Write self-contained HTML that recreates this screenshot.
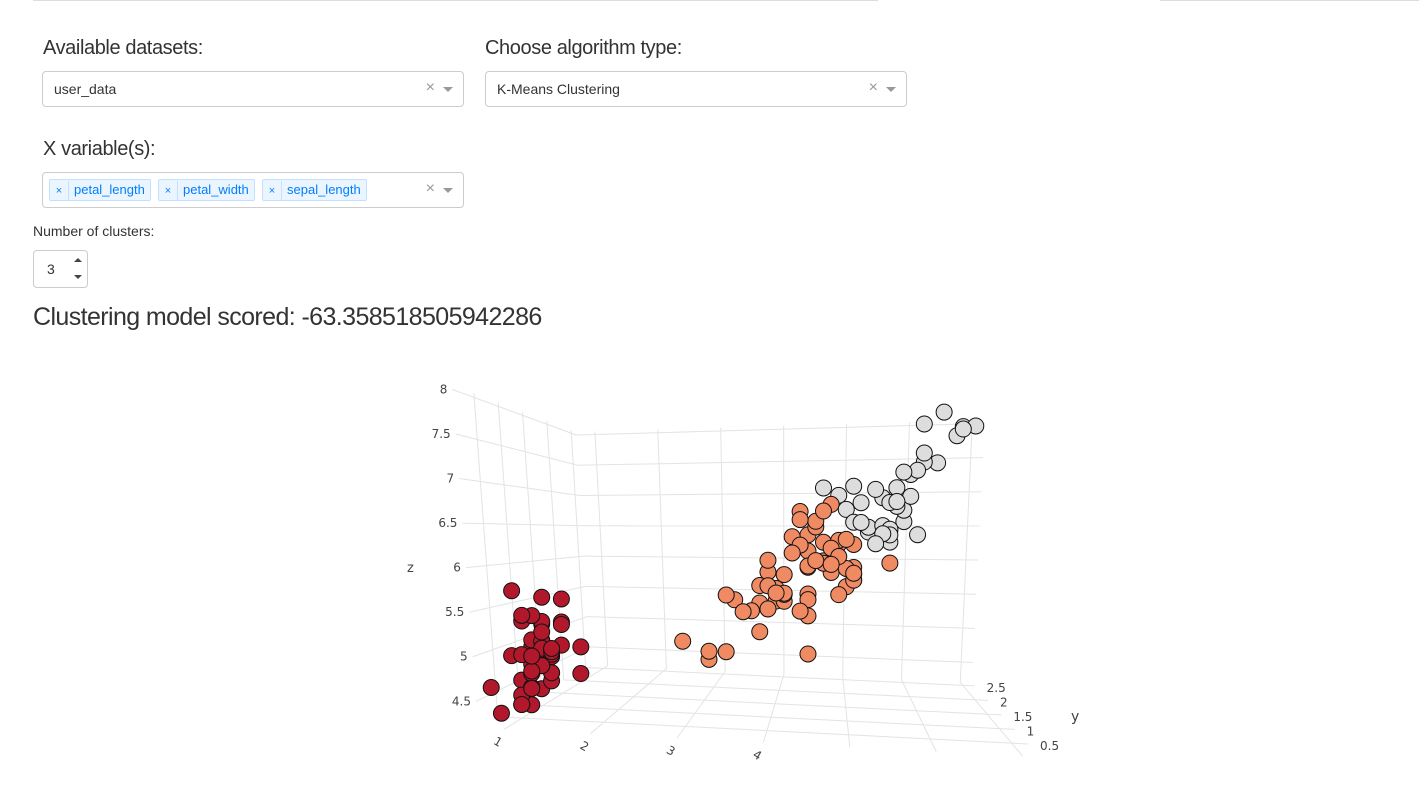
<!DOCTYPE html>
<html><head><meta charset="utf-8">
<style>
body{margin:0;width:1419px;height:785px;background:#fff;font-family:"Liberation Sans",sans-serif;position:relative;overflow:hidden;color:#333}
.abs{position:absolute}
.lbl{font-size:20px;font-weight:300;color:#333;letter-spacing:-0.4px}
.sel{border:1px solid #ccc;border-radius:4px;background:#fff;box-sizing:border-box}
.sel .v{position:absolute;left:11px;top:9px;font-size:14px;color:#333}
.sel .x{position:absolute;right:28px;top:7px;font-size:16px;color:#999}
.sel .c{position:absolute;right:10px;top:15px;width:0;height:0;border-left:5px solid transparent;border-right:5px solid transparent;border-top:5px solid #999}
.tag{position:absolute;top:6px;height:22px;border:1px solid #c2e0ff;background:#ebf5ff;border-radius:2px;color:#007eff;font-size:13px;box-sizing:border-box;line-height:20px}
.tag span.i{display:inline-block;width:18px;text-align:center;border-right:1px solid #c2e0ff;font-size:11px}
.tag span.t{padding:0 5px}
</style></head><body>
<div class="abs" style="left:33px;top:0;width:845px;height:1px;background:#ddd"></div>
<div class="abs" style="left:1160px;top:0;width:259px;height:1px;background:#ddd"></div>

<div class="abs lbl" style="left:43px;top:37px">Available datasets:</div>
<div class="abs sel" style="left:42px;top:71px;width:422px;height:36px"><span class="v">user_data</span><span class="x">×</span><span class="c"></span></div>

<div class="abs lbl" style="left:485px;top:37px">Choose algorithm type:</div>
<div class="abs sel" style="left:485px;top:71px;width:422px;height:36px"><span class="v">K-Means Clustering</span><span class="x">×</span><span class="c"></span></div>

<div class="abs lbl" style="left:43px;top:138px">X variable(s):</div>
<div class="abs sel" style="left:42px;top:172px;width:422px;height:36px">
<div class="tag" style="left:6px"><span class="i">×</span><span class="t">petal_length</span></div>
<div class="tag" style="left:115px"><span class="i">×</span><span class="t">petal_width</span></div>
<div class="tag" style="left:219px"><span class="i">×</span><span class="t">sepal_length</span></div>
<span class="x">×</span><span class="c"></span></div>

<div class="abs" style="left:33px;top:223px;font-size:14px;color:#333">Number of clusters:</div>
<div class="abs sel" style="left:33px;top:250px;width:55px;height:38px"><span class="v" style="left:13px;top:10px">3</span>
<span style="position:absolute;left:40px;top:7px;border-left:4px solid transparent;border-right:4px solid transparent;border-bottom:4px solid #444"></span>
<span style="position:absolute;left:40px;top:24px;border-left:4px solid transparent;border-right:4px solid transparent;border-top:4px solid #444"></span></div>

<div class="abs" style="left:33px;top:303px;font-size:25px;font-weight:300;color:#333;letter-spacing:-0.6px">Clustering model scored: -63.358518505942286</div>

<svg class="abs" style="left:0;top:0" width="1419" height="785" id="chart"></svg>

<script>
const petalLength=[1.4,1.4,1.3,1.5,1.4,1.7,1.4,1.5,1.4,1.5,1.5,1.6,1.4,1.1,1.2,1.5,1.3,1.4,1.7,1.5,1.7,1.5,1.0,1.7,1.9,1.6,1.6,1.5,1.4,1.6,1.6,1.5,1.5,1.4,1.5,1.2,1.3,1.5,1.3,1.5,1.3,1.3,1.3,1.6,1.9,1.4,1.6,1.4,1.5,1.4,
4.7,4.5,4.9,4.0,4.6,4.5,4.7,3.3,4.6,3.9,3.5,4.2,4.0,4.7,3.6,4.4,4.5,4.1,4.5,3.9,4.8,4.0,4.9,4.7,4.3,4.4,4.8,5.0,4.5,3.5,3.8,3.7,3.9,5.1,4.5,4.5,4.7,4.4,4.1,4.0,4.4,4.6,4.0,3.3,4.2,4.2,4.2,4.3,3.0,4.1,
6.0,5.1,5.9,5.6,5.8,6.6,4.5,6.3,5.8,6.1,5.1,5.3,5.5,5.0,5.1,5.3,5.5,6.7,6.9,5.0,5.7,4.9,6.7,4.9,5.7,6.0,4.8,4.9,5.6,5.8,6.1,6.4,5.6,5.1,5.6,6.1,5.6,5.5,4.8,5.4,5.6,5.1,5.1,5.9,5.7,5.2,5.0,5.2,5.4,5.1];
const petalWidth=[0.2,0.2,0.2,0.2,0.2,0.4,0.3,0.2,0.2,0.1,0.2,0.2,0.1,0.1,0.2,0.4,0.4,0.3,0.3,0.3,0.2,0.4,0.2,0.5,0.2,0.2,0.4,0.2,0.2,0.2,0.2,0.4,0.1,0.2,0.1,0.2,0.2,0.1,0.2,0.2,0.3,0.3,0.2,0.6,0.4,0.3,0.2,0.2,0.2,0.2,
1.4,1.5,1.5,1.3,1.5,1.3,1.6,1.0,1.3,1.4,1.0,1.5,1.0,1.4,1.3,1.4,1.5,1.0,1.5,1.1,1.8,1.3,1.5,1.2,1.3,1.4,1.4,1.7,1.5,1.0,1.1,1.0,1.2,1.6,1.5,1.6,1.5,1.3,1.3,1.3,1.2,1.4,1.2,1.0,1.3,1.2,1.3,1.3,1.1,1.3,
2.5,1.9,2.1,1.8,2.2,2.1,1.7,1.8,1.8,2.5,2.0,1.9,2.1,2.0,2.4,2.3,1.8,2.2,2.3,1.5,2.3,2.0,2.0,1.8,2.1,1.8,1.8,1.8,2.1,1.6,1.9,2.0,2.2,1.5,1.4,2.3,2.4,1.8,1.8,2.1,2.4,2.3,1.9,2.3,2.5,2.3,1.9,2.0,2.3,1.8];
const sepalLength=[5.1,4.9,4.7,4.6,5.0,5.4,4.6,5.0,4.4,4.9,5.4,4.8,4.8,4.3,5.8,5.7,5.4,5.1,5.7,5.1,5.4,5.1,4.6,5.1,4.8,5.0,5.0,5.2,5.2,4.7,4.8,5.4,5.2,5.5,4.9,5.0,5.5,4.9,4.4,5.1,5.0,4.5,4.4,5.0,5.1,4.8,5.1,4.6,5.3,5.0,
7.0,6.4,6.9,5.5,6.5,5.7,6.3,4.9,6.6,5.2,5.0,5.9,6.0,6.1,5.6,6.7,5.6,5.8,6.2,5.6,5.9,6.1,6.3,6.1,6.4,6.6,6.8,6.7,6.0,5.7,5.5,5.5,5.8,6.0,5.4,6.0,6.7,6.3,5.6,5.5,5.5,6.1,5.8,5.0,5.6,5.7,5.7,6.2,5.1,5.7,
6.3,5.8,7.1,6.3,6.5,7.6,4.9,7.3,6.7,7.2,6.5,6.4,6.8,5.7,5.8,6.4,6.5,7.7,7.7,6.0,6.9,5.6,7.7,6.3,6.7,7.2,6.2,6.1,6.4,7.2,7.4,7.9,6.4,6.3,6.1,7.7,6.3,6.4,6.0,6.9,6.7,6.9,5.8,6.8,6.7,6.7,6.3,6.5,6.2,5.9];
const cluster=[0,0,0,0,0,0,0,0,0,0,0,0,0,0,0,0,0,0,0,0,0,0,0,0,0,0,0,0,0,0,0,0,0,0,0,0,0,0,0,0,0,0,0,0,0,0,0,0,0,0,
2,1,2,1,1,1,1,1,1,1,1,1,1,1,1,1,1,1,1,1,1,1,1,1,1,1,1,2,1,1,1,1,1,1,1,1,1,1,1,1,1,1,1,1,1,1,1,1,1,1,
2,1,2,2,2,2,1,2,2,2,2,2,2,1,1,2,2,2,2,1,2,1,2,1,2,2,1,1,2,2,2,2,2,1,1,2,2,2,1,2,2,2,1,2,2,2,1,2,2,1];
const clusterColors=['#b2182b','#ef8a62','#dddddd'];
const zTicks=[4.5,5,5.5,6,6.5,7,7.5,8];
const xTicks=[1,2,3,4];
const yTicks=[0.5,1,1.5,2,2.5];

const NS='http://www.w3.org/2000/svg';
const svg=document.getElementById('chart');
function mk(t,a,p){const e=document.createElementNS(NS,t);for(const k in a)e.setAttribute(k,a[k]);(p||svg).appendChild(e);return e;}
// projection (approximate perspective camera)
function sx(x,y,z){return 385+109.7*x-3.49*x*x;}
function sy(x,y,z){return 1060-81*z-12*y+2.5*x;}

const FLT=[452,385],BLT=[576,432],BLB=[590,665],FLB=[478,728],BRT=[985,420],BRB=[972,683],FRB=[1040,757];
function lerp(a,b,t){return [a[0]+(b[0]-a[0])*t,a[1]+(b[1]-a[1])*t];}
const grid=mk('g',{stroke:'#e3e3e3','stroke-width':1,fill:'none'});


function ln(a,b){mk('line',{x1:a[0],y1:a[1],x2:b[0],y2:b[1]},grid);}
const zMin=4.2,zMax=8.05,xMin=0.7,xMax=7.2,yMin=0.05,yMax=2.6;
zTicks.forEach(z=>{const v=(zMax-z)/(zMax-zMin);
 ln(lerp(FLT,FLB,v),lerp(BLT,BLB,v)); ln(lerp(BLT,BLB,v),lerp(BRT,BRB,v));});
xTicks.concat([5,6,7]).forEach(x=>{const u=(x-xMin)/(xMax-xMin);
 ln(lerp(BLT,BRT,u),lerp(BLB,BRB,u)); ln(lerp(BLB,BRB,u),lerp(FLB,FRB,u));});
yTicks.forEach(y=>{const v=(yMax-y)/(yMax-yMin);
 ln(lerp(BLT,FLT,v),lerp(BLB,FLB,v)); ln(lerp(BLB,FLB,v),lerp(BRB,FRB,v));});

const pts=mk('g',{});


for(let i=0;i<petalLength.length;i++){
 const x=petalLength[i],y=petalWidth[i],z=sepalLength[i];
 const c=mk('circle',{cx:sx(x,y,z),cy:sy(x,y,z),r:8,fill:clusterColors[cluster[i]],stroke:'#111','stroke-width':1},pts);
 
 
}
const tl=mk('g',{fill:'#444','font-size':12,'font-family':'"DejaVu Sans",sans-serif'});


zTicks.forEach(z=>{const v=(zMax-z)/(zMax-zMin);const p=lerp(FLT,FLB,v);
 const t=mk('text',{x:p[0]-5,y:p[1]+4,'text-anchor':'end'},tl);t.textContent=String(z);
 });
xTicks.forEach(x=>{const u=(x-xMin)/(xMax-xMin);const p=lerp(FLB,FRB,u);
 const t=mk('text',{x:p[0]-8,y:p[1]+16,'text-anchor':'middle',transform:`rotate(30 ${p[0]-8} ${p[1]+16})`},tl);t.textContent=String(x);
 });
yTicks.forEach(y=>{const v=(yMax-y)/(yMax-yMin);const p=lerp(BRB,FRB,v);
 const t=mk('text',{x:p[0]+12,y:p[1]+6},tl);t.textContent=String(y);
 });
const zt=mk('text',{x:407,y:572,fill:'#444','font-size':13,'font-family':'"DejaVu Sans",sans-serif'});zt.textContent='z';

const yt=mk('text',{x:1071,y:721,fill:'#444','font-size':14,'font-family':'"DejaVu Sans",sans-serif'});yt.textContent='y';

</script>
</body></html>
